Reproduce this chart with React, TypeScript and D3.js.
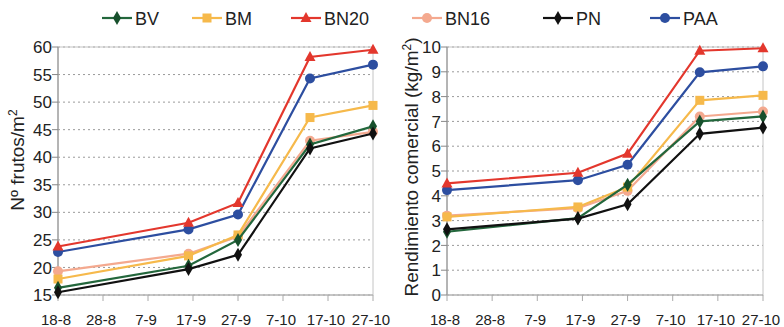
import React from "react";
import * as d3 from "d3";

// fechas de muestreo (dia-mes)
const sampleDates = ["18-8", "16-9", "27-9", "13-10", "27-10"];
const tickLabels = ["18-8", "28-8", "7-9", "17-9", "27-9", "7-10", "17-10", "27-10"];

const seriesNames = ["BV", "BM", "BN20", "BN16", "PN", "PAA"];

// Nº frutos/m2
const frutosBV = [16.3, 20.3, 25.0, 42.3, 45.6];
const frutosBM = [17.9, 22.1, 25.9, 47.2, 49.4];
const frutosBN20 = [23.8, 28.1, 31.7, 58.2, 59.5];
const frutosBN16 = [19.3, 22.5, 25.6, 43.0, 44.6];
const frutosPN = [15.5, 19.7, 22.3, 41.6, 44.3];
const frutosPAA = [22.8, 26.9, 29.6, 54.3, 56.8];

// Rendimiento comercial kg/m2
const rendBV = [2.55, 3.1, 4.45, 7.0, 7.2];
const rendBM = [3.15, 3.55, 4.35, 7.85, 8.05];
const rendBN20 = [4.5, 4.93, 5.7, 9.85, 9.95];
const rendBN16 = [3.2, 3.5, 4.2, 7.2, 7.4];
const rendPN = [2.65, 3.08, 3.66, 6.5, 6.75];
const rendPAA = [4.23, 4.63, 5.25, 8.98, 9.22];

const frutosTicks = [15, 20, 25, 30, 35, 40, 45, 50, 55, 60];
const rendTicks = [0, 1, 2, 3, 4, 5, 6, 7, 8, 9, 10];

const colors: Record<string, string> = {
  BV: "#23673c",
  BM: "#f6b94b",
  BN20: "#e3372d",
  BN16: "#f4a98f",
  PN: "#111111",
  PAA: "#2d4ea0",
};
const markerOf: Record<string, string> = {
  BV: "diamond",
  BM: "square",
  BN20: "triangle",
  BN16: "circle",
  PN: "diamond",
  PAA: "circle",
};
// draw order (black on top)
const drawOrder = ["BN16", "BM", "BV", "PAA", "BN20", "PN"];

const parse = (s: string) => {
  const [d, m] = s.split("-").map(Number);
  return new Date(2000, m - 1, d);
};

const font = "'Liberation Sans', Arial, sans-serif";

function Marker({ type, x, y, color }: { type: string; x: number; y: number; color: string }) {
  if (type === "circle") return <circle cx={x} cy={y} r={5} fill={color} />;
  if (type === "square") return <rect x={x - 4.5} y={y - 4.5} width={9} height={9} fill={color} />;
  if (type === "triangle")
    return <path d={`M${x},${y - 6}L${x + 5.5},${y + 4}L${x - 5.5},${y + 4}Z`} fill={color} />;
  return <path d={`M${x},${y - 7}L${x + 4},${y}L${x},${y + 7}L${x - 4},${y}Z`} fill={color} />;
}

function Panel({
  left,
  right,
  domain,
  ticks,
  data,
  title,
}: {
  left: number;
  right: number;
  domain: [number, number];
  ticks: number[];
  data: Record<string, number[]>;
  title: React.ReactNode;
}) {
  const top = 47;
  const bottom = 295;
  const x = d3
    .scaleTime()
    .domain([parse("18-8"), parse("27-10")])
    .range([left, right]);
  const y = d3.scaleLinear().domain(domain).range([bottom, top]);
  const line = d3
    .line<number>()
    .x((_, i) => x(parse(sampleDates[i])))
    .y((d) => y(d));

  return (
    <g>
      {ticks.map((t) => (
        <line
          key={"g" + t}
          x1={left}
          x2={right}
          y1={y(t)}
          y2={y(t)}
          stroke="#9a9a9a"
          strokeWidth={1}
          strokeDasharray="2,3"
        />
      ))}
      <rect x={left} y={top} width={right - left} height={bottom - top} fill="none" stroke="#c4c4c4" />
      <line x1={left} x2={left} y1={top} y2={bottom} stroke="#888" />
      <line x1={left} x2={right} y1={bottom} y2={bottom} stroke="#aaa" />
      {ticks.map((t) => (
        <g key={"t" + t}>
          <line x1={left - 6} x2={left} y1={y(t)} y2={y(t)} stroke="#888" />
          <text
            x={left - 6}
            y={y(t)}
            dy="0.36em"
            textAnchor="end"
            fontSize={17}
            fontFamily={font}
            fill="#222"
          >
            {t}
          </text>
        </g>
      ))}
      {tickLabels.map((lab) => (
        <g key={"x" + lab}>
          <line x1={x(parse(lab))} x2={x(parse(lab))} y1={bottom} y2={bottom + 6} stroke="#aaa" />
          <text
            x={x(parse(lab)) - 2}
            y={325}
            textAnchor="middle"
            fontSize={15}
            fontFamily={font}
            fill="#222"
          >
            {lab}
          </text>
        </g>
      ))}
      {drawOrder.map((name) => (
        <g key={name}>
          <path d={line(data[name]) || ""} fill="none" stroke={colors[name]} strokeWidth={2.2} />
          {data[name].map((v, i) => (
            <Marker
              key={i}
              type={markerOf[name]}
              x={x(parse(sampleDates[i]))}
              y={y(v)}
              color={name === "BV" ? "#17502c" : colors[name]}
            />
          ))}
        </g>
      ))}
      {title}
    </g>
  );
}

export default function App() {
  const frutos = { BV: frutosBV, BM: frutosBM, BN20: frutosBN20, BN16: frutosBN16, PN: frutosPN, PAA: frutosPAA };
  const rend = { BV: rendBV, BM: rendBM, BN20: rendBN20, BN16: rendBN16, PN: rendPN, PAA: rendPAA };
  const legendX = [117, 207, 306, 427, 558, 665];

  return (
    <svg
      width={784}
      height={327}
      style={{ position: "absolute", left: 0, top: 0, background: "#fff" }}
    >
      {seriesNames.map((name, i) => (
        <g key={name}>
          <line
            x1={legendX[i] - 15}
            x2={legendX[i] + 15}
            y1={18}
            y2={18}
            stroke={colors[name]}
            strokeWidth={2.2}
          />
          <Marker type={markerOf[name]} x={legendX[i]} y={18} color={name === "BV" ? "#17502c" : colors[name]} />
          <text x={legendX[i] + 18} y={25} fontSize={18} fontFamily={font} fill="#222">
            {name}
          </text>
        </g>
      ))}
      <Panel
        left={58}
        right={373}
        domain={[15, 60]}
        ticks={frutosTicks}
        data={frutos}
        title={
          <text
            transform="translate(24,160) rotate(-90)"
            textAnchor="middle"
            fontSize={19}
            fontFamily={font}
            fill="#222"
          >
            Nº frutos/m<tspan dy={-7} fontSize={12}>2</tspan>
          </text>
        }
      />
      <Panel
        left={447}
        right={763}
        domain={[0, 10]}
        ticks={rendTicks}
        data={rend}
        title={
          <text
            transform="translate(418,167) rotate(-90)"
            textAnchor="middle"
            fontSize={19}
            fontFamily={font}
            fill="#222"
          >
            Rendimiento comercial (kg/m<tspan dy={-7} fontSize={12}>2</tspan>
            <tspan dy={7}>)</tspan>
          </text>
        }
      />
    </svg>
  );
}
